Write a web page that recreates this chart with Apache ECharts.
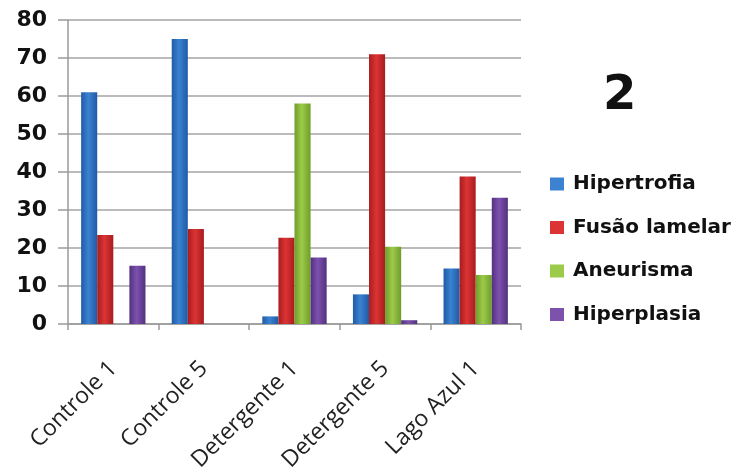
<!DOCTYPE html>
<html>
<head>
<meta charset="utf-8">
<script src="https://cdn.jsdelivr.net/npm/echarts@6/dist/echarts.min.js"></script>
<style>
  html, body { margin: 0; padding: 0; background: #fff; }
  #chart { width: 738px; height: 476px; }
</style>
</head>
<body>
<div id="chart"></div>
<script>
// Categories (groups along the x axis)
const categories = ['Controle 1', 'Controle 5', 'Detergente 1', 'Detergente 5', 'Lago Azul 1'];

// Series values, one array per lesion type
const hipertrofia   = [61, 75, 2, 7.8, 14.6];
const fusaoLamelar  = [23.4, 25, 22.7, 71, 38.8];
const aneurisma     = [0, 0, 58, 20.3, 12.9];
const hiperplasia   = [15.3, 0, 17.5, 1, 33.2];

// Y axis tick range
const yMin = 0, yMax = 80, yStep = 10;

const seriesDefs = [
  { name: 'Hipertrofia',    data: hipertrofia,  c: ['#1f5aa6', '#3b82d0', '#1f5aa6'] },
  { name: 'Fusão lamelar',  data: fusaoLamelar, c: ['#a81c1f', '#dc3434', '#a81c1f'] },
  { name: 'Aneurisma',      data: aneurisma,    c: ['#6f9d2a', '#9ccb4a', '#6f9d2a'] },
  { name: 'Hiperplasia',    data: hiperplasia,  c: ['#543080', '#7c52ad', '#543080'] }
];

const chart = echarts.init(document.getElementById('chart'), null, { renderer: 'canvas' });

const boldFont = '"DejaVu Sans", sans-serif';
const labelFont = '"Open Sans", sans-serif';

chart.setOption({
  animation: false,
  backgroundColor: '#ffffff',
  grid: { left: 68, right: 217, top: 20, bottom: 152, containLabel: false, outerBoundsMode: 'none' },
  title: {
    text: '2', left: 598, top: 68,
    textStyle: { fontFamily: boldFont, fontSize: 48, fontWeight: 'bold', color: '#111' }
  },
  legend: {
    orient: 'vertical', left: 545, top: 169,
    itemWidth: 14, itemHeight: 13, itemGap: 23.5,
    icon: 'rect',
    textStyle: { fontFamily: boldFont, fontSize: 20, fontWeight: 'bold', color: '#111', padding: [0, 0, 0, 4] },
    data: seriesDefs.map(s => ({ name: s.name, itemStyle: { color: s.c[1] } }))
  },
  xAxis: {
    type: 'category',
    data: categories,
    axisLine: { lineStyle: { color: '#9a9a9a', width: 1.5 } },
    axisTick: { show: true, length: 6, lineStyle: { color: '#9a9a9a', width: 1.5 } },
    axisLabel: {
      rotate: 45, margin: 41, fontFamily: labelFont, fontSize: 23, color: '#222'
    }
  },
  yAxis: {
    type: 'value', min: yMin, max: yMax, interval: yStep,
    axisLine: { show: true, lineStyle: { color: '#9a9a9a', width: 1.5 } },
    axisTick: { show: true, length: 10, lineStyle: { color: '#9a9a9a', width: 1.5 } },
    splitLine: { lineStyle: { color: '#a4a4a4', width: 1.5 } },
    axisLabel: { margin: 21, fontFamily: boldFont, fontSize: 22, fontWeight: 'bold', color: '#111' }
  },
  series: seriesDefs.map(s => ({
    name: s.name,
    type: 'bar',
    data: s.data,
    barGap: '0%',
    barCategoryGap: '29%',
    itemStyle: {
      color: new echarts.graphic.LinearGradient(0, 0, 1, 0, [
        { offset: 0, color: s.c[0] },
        { offset: 0.45, color: s.c[1] },
        { offset: 1, color: s.c[2] }
      ])
    }
  }))
});
</script>
</body>
</html>
